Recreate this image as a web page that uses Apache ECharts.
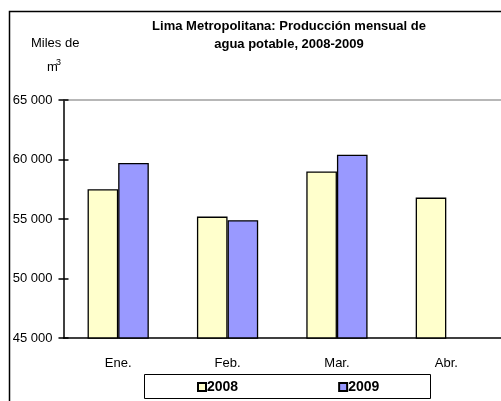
<!DOCTYPE html>
<html>
<head>
<meta charset="utf-8">
<script src="https://cdn.jsdelivr.net/npm/echarts@6/dist/echarts.min.js"></script>
<style>
  html, body { margin: 0; padding: 0; background: #fff; }
  #chart { width: 501px; height: 401px; }
</style>
</head>
<body>
<div id="chart"></div>
<script>
var months = ['Ene.', 'Feb.', 'Mar.', 'Abr.'];
var values2008 = [57500, 55200, 59000, 56800];
var values2009 = [59700, 54900, 60400, null];
var yTicks = [45000, 50000, 55000, 60000, 65000];

var font = 'Liberation Sans, Arial, sans-serif';
var myChart = echarts.init(document.getElementById('chart'));

// miles con espacio: 65 000
function fmt(v) {
    return String(v).replace(/\B(?=(\d{3})+(?!\d))/g, ' ');
}

var crossTick = { color: '#000', width: 1.5 };

var option = {
    backgroundColor: '#fff',
    animation: false,
    title: {
        text: 'Lima Metropolitana: Producción mensual de\nagua potable, 2008-2009',
        left: 284,
        top: 12,
        textAlign: 'center',
        textStyle: { fontFamily: font, fontSize: 13, fontWeight: 'bold', color: '#000', lineHeight: 18 }
    },
    legend: {
        data: ['2008', '2009'],
        left: 197,
        top: 380,
        padding: 0,
        itemWidth: 8,
        itemHeight: 8,
        itemGap: 100,
        icon: 'rect',
        textStyle: { fontFamily: font, fontSize: 14, fontWeight: 'bold', color: '#000', padding: [0, 0, 0, -4] }
    },
    grid: {
        left: 63.5,
        right: -2,
        top: 100,
        bottom: 63
    },
    xAxis: [{
        type: 'category',
        data: months,
        axisLine: { lineStyle: { color: '#000', width: 1.5 } },
        axisTick: { length: 4, lineStyle: crossTick },
        axisLabel: { margin: 19, fontFamily: font, fontSize: 13, color: '#000' }
    }, {
        type: 'category',
        data: months,
        position: 'bottom',
        axisLine: { show: false },
        axisTick: { inside: true, length: 4, lineStyle: crossTick },
        axisLabel: { show: false }
    }, {
        // borde superior gris del área
        type: 'category',
        data: months,
        position: 'top',
        axisLine: { lineStyle: { color: '#a0a0a0', width: 1.5 } },
        axisTick: { show: false },
        axisLabel: { show: false }
    }],
    yAxis: [{
        type: 'value',
        min: yTicks[0],
        max: yTicks[yTicks.length - 1],
        interval: yTicks[1] - yTicks[0],
        axisLine: { show: true, lineStyle: { color: '#000', width: 1.5 } },
        axisTick: { show: true, length: 5, lineStyle: crossTick },
        splitLine: { show: false },
        axisLabel: { margin: 11, fontFamily: font, fontSize: 13, color: '#000', formatter: fmt }
    }, {
        type: 'value',
        position: 'left',
        min: yTicks[0],
        max: yTicks[yTicks.length - 1],
        interval: yTicks[1] - yTicks[0],
        axisLine: { show: false },
        axisTick: { show: true, inside: true, length: 5, lineStyle: crossTick },
        splitLine: { show: false },
        axisLabel: { show: false }
    }],
    series: [{
        name: '2008',
        type: 'bar',
        data: values2008,
        barGap: '0%',
        barCategoryGap: '44%',
        itemStyle: { color: '#ffffcc', borderColor: '#000', borderWidth: 1.3 }
    }, {
        name: '2009',
        type: 'bar',
        data: values2009,
        itemStyle: { color: '#9999ff', borderColor: '#000', borderWidth: 1.3 }
    }],
    graphic: [{
        type: 'rect',
        shape: { x: 9.5, y: 11.5, width: 520, height: 420 },
        style: { fill: null, stroke: '#000', lineWidth: 1.5 },
        silent: true
    }, {
        type: 'rect',
        shape: { x: 144.5, y: 374.5, width: 286, height: 24 },
        style: { fill: null, stroke: '#000', lineWidth: 1 },
        silent: true
    }, {
        type: 'text',
        left: 31,
        top: 37,
        style: { text: 'Miles de', fontFamily: font, fontSize: 13, fill: '#000' }
    }, {
        type: 'text',
        left: 47,
        top: 61,
        style: { text: 'm', fontFamily: font, fontSize: 13, fill: '#000' }
    }, {
        type: 'text',
        left: 56,
        top: 58,
        style: { text: '3', fontFamily: font, fontSize: 9, fill: '#000' }
    }]
};

option && myChart.setOption(option);
</script>
</body>
</html>
